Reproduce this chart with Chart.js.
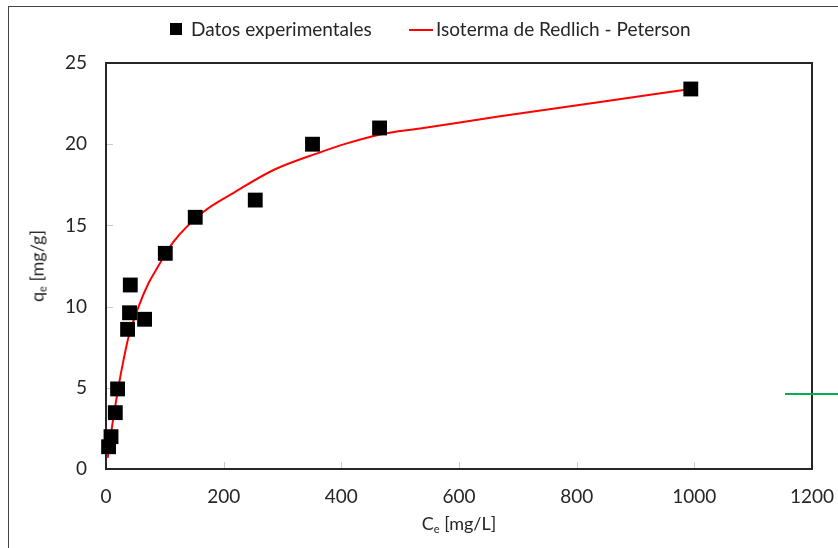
<!DOCTYPE html>
<html>
<head>
<meta charset="utf-8">
<script src="https://cdn.jsdelivr.net/npm/chart.js@4.4.1/dist/chart.umd.min.js"></script>
<style>
  html, body { margin: 0; padding: 0; background: #fff; }
  body { width: 838px; height: 548px; position: relative; overflow: hidden; font-family: Lato, "Open Sans", sans-serif; color: #262626; }
  #frame { position: absolute; left: 8px; top: 6px; right: -4px; bottom: -4px; border-top: 1.5px solid #444; border-left: 1.5px solid #444; }
  #wrap { position: absolute; left: 0; top: 0; width: 838px; height: 548px; }
  .legend { position: absolute; top: 18px; font-size: 19px; line-height: 22px; white-space: nowrap; }
  .legend .sq { position: absolute; left: -21px; top: 5px; width: 12px; height: 12px; background: #000; }
  .legend .ln { position: absolute; left: -27px; top: 11px; width: 24px; height: 2px; background: #ff0000; }
  .ytitle { position: absolute; left: 37px; top: 266px; transform: translate(-50%, -50%) rotate(-90deg); font-size: 18px; white-space: nowrap; }
  .xtitle { position: absolute; left: 459px; top: 523px; transform: translate(-50%, -50%); font-size: 18px; white-space: nowrap; }
  sub { font-size: 11px; vertical-align: -3px; }
  #mark { position: absolute; left: 785px; top: 393px; width: 53px; height: 2px; background: #00b050; }
</style>
</head>
<body>
<div id="frame"></div>
<div id="wrap"><canvas id="chart" width="838" height="548"></canvas></div>
<div class="legend" style="left:191px"><span class="sq"></span>Datos experimentales</div>
<div class="legend" style="left:436px"><span class="ln"></span>Isoterma de Redlich - Peterson</div>
<div class="ytitle">q<sub>e</sub> [mg/g]</div>
<div class="xtitle">C<sub>e</sub> [mg/L]</div>
<div id="mark"></div>
<script>
// experimental points: Ce [mg/L] vs qe [mg/g]
const expCe = [4.4, 8.5, 15.8, 19.7, 36.7, 40, 41.3, 65.6, 100.8, 151.7, 253.7, 351, 465, 994];
const expQe = [1.37, 1.99, 3.47, 4.93, 8.6, 9.62, 11.33, 9.22, 13.28, 15.5, 16.56, 20.0, 21.0, 23.4];

// Redlich-Peterson fitted curve
const fitCe = [2.7, 5.6, 10.2, 15.8, 21.4, 30, 38.4, 55.4, 72.4, 85, 114.9, 165.9, 216.8, 284.8, 364, 409.5, 466, 534, 670, 840, 994];
const fitQe = [0.68, 1.37, 2.6, 3.9, 5.1, 6.75, 8.15, 10.0, 11.45, 12.25, 14.0, 15.84, 17.0, 18.41, 19.5, 20.05, 20.6, 20.97, 21.72, 22.6, 23.4];

const xTicks = [0, 200, 400, 600, 800, 1000, 1200];
const yTicks = [0, 5, 10, 15, 20, 25];

const tickFont = { family: "Lato, 'Open Sans', sans-serif", size: 19 };

// plot frame plus short grey tick marks pointing into the plot,
// drawn under the markers so the squares sit on top of the axes
const frameAndTicks = {
  id: "frameAndTicks",
  beforeDatasetsDraw(chart) {
    const { ctx, chartArea: a, scales } = chart;
    ctx.save();
    ctx.strokeStyle = "#c8c8c8";
    ctx.lineWidth = 1;
    ctx.beginPath();
    scales.x.ticks.forEach((t) => {
      const px = Math.round(scales.x.getPixelForValue(t.value)) + 0.5;
      ctx.moveTo(px, a.bottom);
      ctx.lineTo(px, a.bottom - 7);
    });
    scales.y.ticks.forEach((t) => {
      const py = Math.round(scales.y.getPixelForValue(t.value)) + 0.5;
      ctx.moveTo(a.left, py);
      ctx.lineTo(a.left + 7, py);
    });
    ctx.stroke();
    ctx.strokeStyle = "#262626";
    ctx.lineWidth = 2;
    ctx.strokeRect(a.left, a.top, a.right - a.left, a.bottom - a.top);
    ctx.restore();
  },
};

new Chart(document.getElementById("chart").getContext("2d"), {
  type: "scatter",
  data: {
    datasets: [
      {
        label: "Isoterma de Redlich - Peterson",
        data: fitCe.map((c, i) => ({ x: c, y: fitQe[i] })),
        showLine: true,
        borderColor: "#ff0000",
        borderWidth: 2,
        pointRadius: 0,
        cubicInterpolationMode: "monotone",
        order: 2,
      },
      {
        label: "Datos experimentales",
        data: expCe.map((c, i) => ({ x: c, y: expQe[i] })),
        pointStyle: "rect",
        pointRadius: 10.5,
        backgroundColor: "#000",
        borderColor: "#000",
        borderWidth: 0,
        clip: false,
        order: 1,
      },
    ],
  },
  options: {
    responsive: false,
    animation: false,
    layout: { padding: { left: 0, right: 26, top: 63, bottom: 0 } },
    plugins: { legend: { display: false }, tooltip: { enabled: false } },
    scales: {
      x: {
        type: "linear",
        min: 0,
        max: 1200,
        afterBuildTicks: (s) => { s.ticks = xTicks.map((v) => ({ value: v })); },
        afterFit: (s) => { s.height = 79; s.paddingLeft = 0; s.paddingRight = 0; },
        grid: { display: false },
        border: { display: false },
        ticks: { font: tickFont, color: "#262626", padding: 8, callback: (v) => String(v) },
      },
      y: {
        min: 0,
        max: 25,
        afterBuildTicks: (s) => { s.ticks = yTicks.map((v) => ({ value: v })); },
        afterFit: (s) => { s.width = 106; s.paddingTop = 0; s.paddingBottom = 0; },
        grid: { display: false },
        border: { display: false },
        ticks: { font: tickFont, color: "#262626", padding: 11 },
      },
    },
  },
  plugins: [frameAndTicks],
});
</script>
</body>
</html>
